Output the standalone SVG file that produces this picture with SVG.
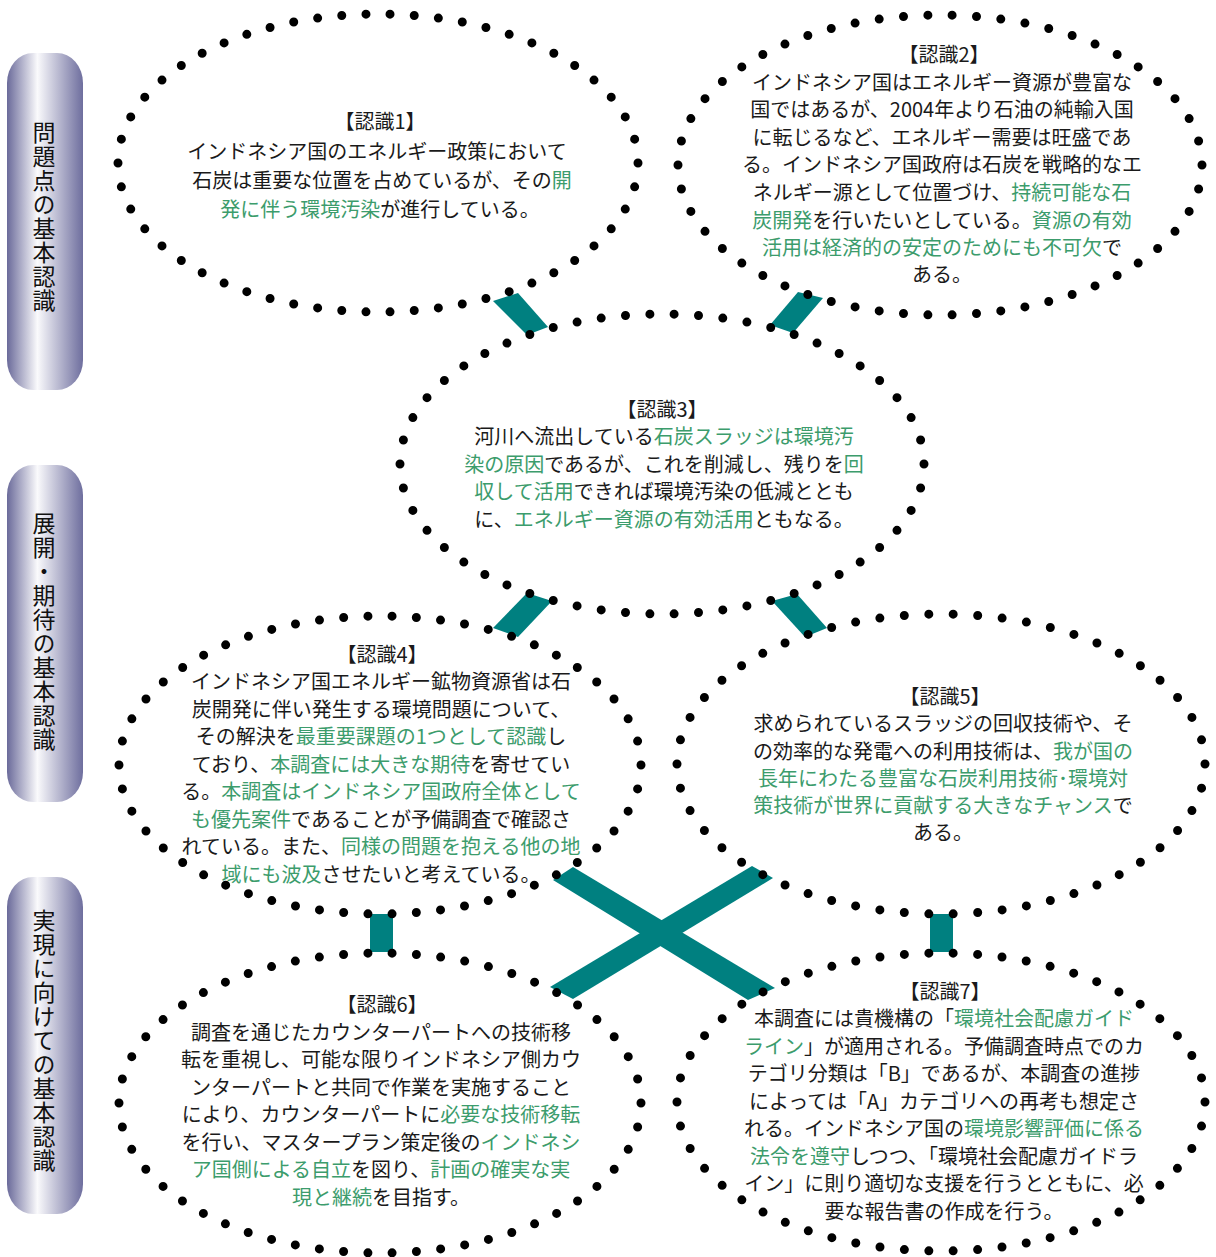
<svg xmlns="http://www.w3.org/2000/svg" width="1216" height="1257" viewBox="0 0 1216 1257">
  <defs>
    <linearGradient id="barFill" x1="0" y1="0" x2="1" y2="0">
      <stop offset="0" stop-color="#6a6a9a"/>
      <stop offset="0.4" stop-color="#fafafc"/>
      <stop offset="1" stop-color="#6e6e9e"/>
    </linearGradient>
    <style>
      .bar { fill: url(#barFill); }
      .vlabel { font-family: "Noto Sans CJK JP", "Noto Sans", sans-serif; font-size: 23px; fill: #111; writing-mode: vertical-rl; letter-spacing: 1px; }
      .ring { fill: none; stroke: #000; stroke-width: 9; stroke-linecap: round; stroke-dasharray: 0 1; }
      .t { font-family: "Noto Sans CJK JP", "Noto Sans", sans-serif; font-size: 20px; fill: #1a1a1a; text-anchor: middle; }
      .g { fill: #3c9c6c; }
      .link { fill: #008080; }
    </style>
  </defs>
  <rect width="1216" height="1257" fill="#fff"/>

  <!-- stage labels on the left -->
  <g id="stage-1">
    <rect class="bar" x="7" y="53" width="76" height="337" rx="26" ry="30"/>
    <text class="vlabel" x="44" y="121">問題点の基本認識</text>
  </g>
  <g id="stage-2">
    <rect class="bar" x="7" y="465" width="76" height="337" rx="26" ry="30"/>
    <text class="vlabel" x="44" y="512">展開・期待の基本認識</text>
  </g>
  <g id="stage-3">
    <rect class="bar" x="7" y="877" width="76" height="337" rx="26" ry="30"/>
    <text class="vlabel" x="44" y="909">実現に向けての基本認識</text>
  </g>

  <!-- teal links between the recognitions -->
  <g id="connectors">
    <polygon class="link" points="493,301 518,293 548,327 527,335"/>
    <polygon class="link" points="798,292 823,298 793,333 770,325"/>
    <polygon class="link" points="527,593 552,601 518,637 493,628"/>
    <polygon class="link" points="772,601 797,594 827,628 805,637"/>
    <rect class="link" x="370" y="914" width="23" height="38"/>
    <rect class="link" x="930" y="914" width="23" height="38"/>
    <polygon class="link" points="553,880 573,867 775,988 748,1000"/>
    <polygon class="link" points="752,866 773,878 573,999 550,987"/>
  </g>

  <g id="node-1">
    <ellipse class="ring" cx="378" cy="163" rx="260" ry="149" pathLength="54"/>
    <text class="t" x="380" y="129">【認識1】</text>
    <text class="t" x="377" y="159">インドネシア国のエネルギー政策において</text>
    <text class="t" x="382" y="188">石炭は重要な位置を占めているが、その<tspan class="g">開</tspan></text>
    <text class="t" x="380" y="217"><tspan class="g">発に伴う環境汚染</tspan>が進行している。</text>
  </g>

  <g id="node-2">
    <ellipse class="ring" cx="940" cy="165" rx="262" ry="150" pathLength="54"/>
    <text class="t" x="944" y="62">【認識2】</text>
    <text class="t" x="942" y="90">インドネシア国はエネルギー資源が豊富な</text>
    <text class="t" x="942" y="117">国ではあるが、2004年より石油の純輸入国</text>
    <text class="t" x="942" y="145">に転じるなど、エネルギー需要は旺盛であ</text>
    <text class="t" x="942" y="172">る。インドネシア国政府は石炭を戦略的なエ</text>
    <text class="t" x="942" y="200">ネルギー源として位置づけ、<tspan class="g">持続可能な石</tspan></text>
    <text class="t" x="942" y="228"><tspan class="g">炭開発</tspan>を行いたいとしている。<tspan class="g">資源の有効</tspan></text>
    <text class="t" x="942" y="255"><tspan class="g">活用は経済的の安定のためにも不可欠</tspan>で</text>
    <text class="t" x="942" y="282">ある。</text>
  </g>

  <g id="node-3">
    <ellipse class="ring" cx="662" cy="464" rx="262" ry="150" pathLength="54"/>
    <text class="t" x="662" y="417">【認識3】</text>
    <text class="t" x="664" y="444">河川へ流出している<tspan class="g">石炭スラッジは環境汚</tspan></text>
    <text class="t" x="664" y="472"><tspan class="g">染の原因</tspan>であるが、これを削減し、残りを<tspan class="g">回</tspan></text>
    <text class="t" x="664" y="499"><tspan class="g">収して活用</tspan>できれば環境汚染の低減ととも</text>
    <text class="t" x="664" y="527">に、<tspan class="g">エネルギー資源の有効活用</tspan>ともなる。</text>
  </g>

  <g id="node-4">
    <ellipse class="ring" cx="380" cy="765" rx="261" ry="149" pathLength="54"/>
    <text class="t" x="382" y="662">【認識4】</text>
    <text class="t" x="381" y="689">インドネシア国エネルギー鉱物資源省は石</text>
    <text class="t" x="381" y="717">炭開発に伴い発生する環境問題について、</text>
    <text class="t" x="381" y="744">その解決を<tspan class="g">最重要課題の1つとして認識</tspan>し</text>
    <text class="t" x="381" y="772">ており、<tspan class="g">本調査には大きな期待</tspan>を寄せてい</text>
    <text class="t" x="381" y="799">る。<tspan class="g">本調査はインドネシア国政府全体として</tspan></text>
    <text class="t" x="381" y="827"><tspan class="g">も優先案件</tspan>であることが予備調査で確認さ</text>
    <text class="t" x="381" y="854">れている。また、<tspan class="g">同様の問題を抱える他の地</tspan></text>
    <text class="t" x="381" y="882"><tspan class="g">域にも波及</tspan>させたいと考えている。</text>
  </g>

  <g id="node-5">
    <ellipse class="ring" cx="941" cy="764" rx="264" ry="150" pathLength="54"/>
    <text class="t" x="945" y="704">【認識5】</text>
    <text class="t" x="943" y="731">求められているスラッジの回収技術や、そ</text>
    <text class="t" x="943" y="759">の効率的な発電への利用技術は、<tspan class="g">我が国の</tspan></text>
    <text class="t" x="943" y="786"><tspan class="g">長年にわたる豊富な石炭利用技術･環境対</tspan></text>
    <text class="t" x="943" y="813"><tspan class="g">策技術が世界に貢献する大きなチャンス</tspan>で</text>
    <text class="t" x="943" y="840">ある。</text>
  </g>

  <g id="node-6">
    <ellipse class="ring" cx="380" cy="1103" rx="261" ry="150" pathLength="54"/>
    <text class="t" x="382" y="1012">【認識6】</text>
    <text class="t" x="381" y="1040">調査を通じたカウンターパートへの技術移</text>
    <text class="t" x="381" y="1067">転を重視し、可能な限りインドネシア側カウ</text>
    <text class="t" x="381" y="1095">ンターパートと共同で作業を実施すること</text>
    <text class="t" x="381" y="1122">により、カウンターパートに<tspan class="g">必要な技術移転</tspan></text>
    <text class="t" x="381" y="1150">を行い、マスタープラン策定後の<tspan class="g">インドネシ</tspan></text>
    <text class="t" x="381" y="1177"><tspan class="g">ア国側による自立</tspan>を図り、<tspan class="g">計画の確実な実</tspan></text>
    <text class="t" x="381" y="1205"><tspan class="g">現と継続</tspan>を目指す。</text>
  </g>

  <g id="node-7">
    <ellipse class="ring" cx="941" cy="1102" rx="264" ry="149" pathLength="54"/>
    <text class="t" x="945" y="999">【認識7】</text>
    <text class="t" x="944" y="1026">本調査には貴機構の「<tspan class="g">環境社会配慮ガイド</tspan></text>
    <text class="t" x="944" y="1054"><tspan class="g">ライン</tspan>」が適用される。予備調査時点でのカ</text>
    <text class="t" x="944" y="1081">テゴリ分類は「B」であるが、本調査の進捗</text>
    <text class="t" x="944" y="1109">によっては「A」カテゴリへの再考も想定さ</text>
    <text class="t" x="944" y="1136">れる。インドネシア国の<tspan class="g">環境影響評価に係る</tspan></text>
    <text class="t" x="944" y="1164"><tspan class="g">法令を遵守</tspan>しつつ、「環境社会配慮ガイドラ</text>
    <text class="t" x="944" y="1191">イン」に則り適切な支援を行うとともに、必</text>
    <text class="t" x="944" y="1219">要な報告書の作成を行う。</text>
  </g>
</svg>
